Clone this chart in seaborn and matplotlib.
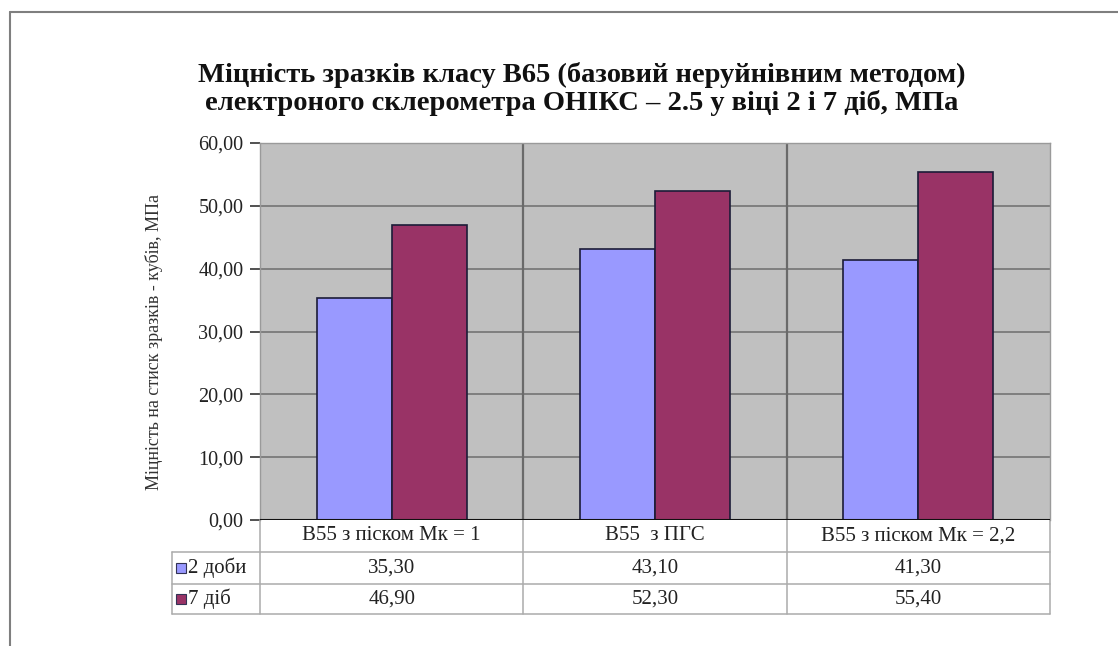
import matplotlib
matplotlib.use("Agg")
import matplotlib.pyplot as plt
from matplotlib.lines import Line2D
from matplotlib.patches import Rectangle
import seaborn as sns
import pandas as pd

# Chart data
categories = ["В55 з піском Мк = 1", "В55  з ПГС", "В55 з піском Мк = 2,2"]
series = ["2 доби", "7 діб"]
values_2d = [35.30, 43.10, 41.30]
values_7d = [46.90, 52.30, 55.40]
y_ticks = [0, 10, 20, 30, 40, 50, 60]

title = ("Міцність зразків класу В65 (базовий неруйнівним методом)\n"
         "електроного склерометра ОНІКС – 2.5 у віці 2 і 7 діб, МПа")
y_label = "Міцність на стиск зразків - кубів, МПа"

colors = ["#9999FF", "#993366"]

df = pd.DataFrame({
    "cat": categories * 2,
    "series": [series[0]] * 3 + [series[1]] * 3,
    "value": values_2d + values_7d,
})

sns.set_theme(style="white")
plt.rcParams["font.family"] = ["Liberation Serif", "DejaVu Serif"]

W, H = 1118, 646
fig = plt.figure(figsize=(W / 100, H / 100), dpi=100)
fig.patch.set_facecolor("white")

# plot area in pixel terms
px_left, px_right, px_top, px_bottom = 260, 1050, 143, 520
ax = fig.add_axes([px_left / W, 1 - px_bottom / H,
                   (px_right - px_left) / W, (px_bottom - px_top) / H])
ax.set_facecolor("#C0C0C0")

sns.barplot(data=df, x="cat", y="value", hue="series", hue_order=series,
            order=categories, palette=colors, saturation=1, width=0.57,
            dodge=True, edgecolor="#1c1c38", linewidth=1.2, legend=False,
            ax=ax, zorder=3)

ax.set_xlim(-0.5, len(categories) - 0.5)
ax.set_ylim(0, 60)
ax.set_yticks(y_ticks)
ax.set_yticklabels([f"{t:.2f}".replace(".", ",") for t in y_ticks],
                   fontsize=14.5, color="#222222")
ax.tick_params(axis="y", left=True, length=7, width=1.2, color="#333333",
               pad=5, direction="out")
ax.set_xticks([])
ax.set_xlabel("")
ax.set_ylabel("")

# horizontal gridlines
for t in y_ticks[1:]:
    ax.axhline(t, color="#7a7a7a", lw=1.3, zorder=1)
ax.axhline(0, color="#111111", lw=1.5, zorder=4)
# category separators
for xs in [0.5, 1.5]:
    ax.axvline(xs, color="#6a6a6a", lw=1.6, zorder=1)

for sp in ["top", "right", "left"]:
    ax.spines[sp].set_color("#9a9a9a")
    ax.spines[sp].set_linewidth(1.0)
ax.spines["bottom"].set_visible(False)

# data table under the plot
plot_h = px_bottom - px_top
row_px = [520, 552, 584, 614]
rows_ax = [-(r - px_bottom) / plot_h for r in row_px]
legend_left_ax = (172 - px_left) / (px_right - px_left)
table_color = "#ababab"
table_fs = 15

for y in rows_ax[1:]:
    ax.add_line(Line2D([legend_left_ax, 1], [y, y], transform=ax.transAxes,
                       color=table_color, lw=1.1, clip_on=False))
ax.add_line(Line2D([legend_left_ax, legend_left_ax], [rows_ax[1], rows_ax[3]],
                   transform=ax.transAxes, color=table_color, lw=1.1,
                   clip_on=False))
xtr = ax.get_xaxis_transform()
for xs in [-0.5, 0.5, 1.5, 2.5]:
    ax.add_line(Line2D([xs, xs], [rows_ax[0], rows_ax[3]], transform=xtr,
                       color=table_color, lw=1.1, clip_on=False))

def mid(a, b):
    return (a + b) / 2

for i, cat in enumerate(categories):
    ax.text(i, mid(rows_ax[0], rows_ax[1]), cat, transform=xtr,
            ha="center", va="center", fontsize=table_fs, color="#222222")
    ax.text(i, mid(rows_ax[1], rows_ax[2]),
            f"{values_2d[i]:.2f}".replace(".", ","), transform=xtr,
            ha="center", va="center", fontsize=table_fs, color="#222222")
    ax.text(i, mid(rows_ax[2], rows_ax[3]),
            f"{values_7d[i]:.2f}".replace(".", ","), transform=xtr,
            ha="center", va="center", fontsize=table_fs, color="#222222")

# legend keys inside the table's first column
sq = 10
for k, (name, col) in enumerate(zip(series, colors)):
    cy = (row_px[k + 1] + row_px[k + 2]) / 2
    fig.add_artist(Rectangle((176 / W, 1 - (cy + sq / 2) / H), sq / W, sq / H,
                             transform=fig.transFigure, facecolor=col,
                             edgecolor="#333355", lw=0.8))
    fig.text(188 / W, 1 - cy / H, name, ha="left", va="center",
             fontsize=table_fs, color="#222222")

# title and axis label
fig.text(582 / W, 1 - 89 / H, title, ha="center", va="center",
         fontsize=20.5, fontweight="bold", color="#111111", linespacing=1.1)
fig.text(154 / W, 1 - 342 / H, y_label, rotation=90, ha="center",
         va="center", fontsize=13, color="#333333")

# outer frame
fig.add_artist(Line2D([10 / W, 1], [1 - 12 / H, 1 - 12 / H],
                      transform=fig.transFigure, color="#7f7f7f", lw=1.5))
fig.add_artist(Line2D([10 / W, 10 / W], [0, 1 - 12 / H],
                      transform=fig.transFigure, color="#7f7f7f", lw=1.5))

fig.savefig("out.png", dpi=100, facecolor="white")
